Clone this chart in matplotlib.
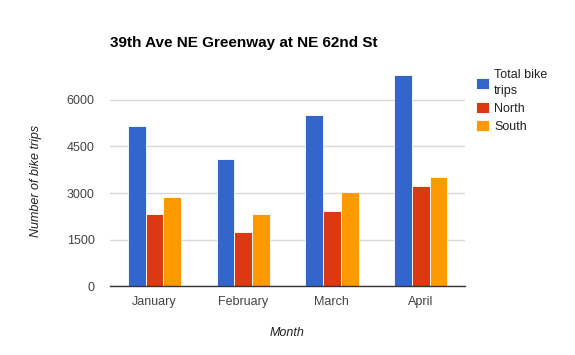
import matplotlib
matplotlib.use('Agg')
import matplotlib.pyplot as plt
import numpy as np

months = ['January', 'February', 'March', 'April']
total = [5170, 4100, 5510, 6790]
north = [2320, 1760, 2410, 3240]
south = [2870, 2320, 3045, 3520]
series_names = ['Total bike\ntrips', 'North', 'South']
colors = ['#3366cc', '#dc3912', '#ff9900']
yticks = [0, 1500, 3000, 4500, 6000]

plt.rcParams['font.family'] = ['Liberation Sans', 'DejaVu Sans']

fig = plt.figure(figsize=(5.75, 3.55), dpi=100)
ax = fig.add_axes([110 / 575, 1 - 286.3 / 355, 355 / 575, (286.3 - 75) / 355])

x = np.arange(len(months))
w = 0.2
handles = []
for i, (vals, name, c) in enumerate(zip([total, north, south], series_names, colors)):
    h = ax.bar(x + (i - 1) * w, vals, w, color=c, edgecolor='white', linewidth=0.6,
               label=name, zorder=3)
    handles.append(h)

ax.set_xlim(-0.5, 3.5)
ax.set_ylim(0, 6800)
ax.set_yticks(yticks)
ax.set_yticklabels([str(v) for v in yticks])
ax.set_xticks(x)
ax.set_xticklabels(months)
ax.tick_params(length=0, labelsize=9, colors='#444444')
ax.tick_params(axis='y', pad=11)
ax.tick_params(axis='x', pad=7)
ax.grid(axis='y', color='#d9d9d9', linewidth=1, zorder=0)
for s in ['top', 'right', 'left']:
    ax.spines[s].set_visible(False)
ax.spines['bottom'].set_color('#333333')
ax.spines['bottom'].set_linewidth(1)
ax.spines['bottom'].set_zorder(4)

ax.set_xlabel('Month', fontstyle='italic', fontsize=9, color='#222222', labelpad=14)
ax.set_ylabel('Number of bike trips', fontstyle='italic', fontsize=9, color='#222222',
              labelpad=18)

fig.text(110 / 575, 1 - 42.7 / 355, '39th Ave NE Greenway at NE 62nd St',
         fontsize=11, fontweight='bold', va='center', ha='left', color='#000000')

leg = fig.legend(handles=handles, loc='upper left', bbox_to_anchor=(476 / 575, 1 - 69 / 355),
                 frameon=False, fontsize=9, handlelength=1.0, handleheight=1.0,
                 handletextpad=0.45, labelspacing=0.4, borderaxespad=0, borderpad=0)
for t in leg.get_texts():
    t.set_color('#222222')
    t.set_linespacing(1.45)

fig.savefig('out.png', dpi=100)
